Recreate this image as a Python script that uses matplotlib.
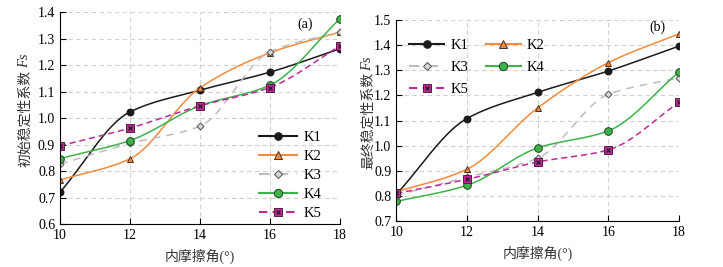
import matplotlib
matplotlib.use('Agg')
import matplotlib.pyplot as plt
import numpy as np

plt.rcParams['font.family'] = ['Liberation Serif', 'Noto Sans CJK SC']

# Data
angle = [10, 12, 14, 16, 18]

init_k1 = [0.720, 1.023, 1.105, 1.173, 1.261]
init_k2 = [0.766, 0.846, 1.114, 1.246, 1.324]
init_k3 = [0.826, 0.904, 0.969, 1.250, 1.325]
init_k4 = [0.847, 0.915, 1.046, 1.124, 1.374]
init_k5 = [0.895, 0.962, 1.046, 1.115, 1.272]

final_k1 = [0.806, 1.108, 1.212, 1.297, 1.396]
final_k2 = [0.816, 0.906, 1.150, 1.330, 1.445]
final_k3 = [0.802, 0.875, 0.950, 1.204, 1.270]
final_k4 = [0.778, 0.842, 0.991, 1.059, 1.293]
final_k5 = [0.810, 0.866, 0.935, 0.983, 1.172]

names = ['K1', 'K2', 'K3', 'K4', 'K5']


def pchip(x, y, xs):
    # monotone cubic (Fritsch-Carlson) for a smooth line through the points
    x = np.asarray(x, float)
    y = np.asarray(y, float)
    h = np.diff(x)
    d = np.diff(y) / h
    m = np.zeros_like(y)
    for i in range(1, len(y) - 1):
        if d[i - 1] * d[i] > 0:
            w1 = 2 * h[i] + h[i - 1]
            w2 = h[i] + 2 * h[i - 1]
            m[i] = (w1 + w2) / (w1 / d[i - 1] + w2 / d[i])
    m[0] = d[0]
    m[-1] = d[-1]
    out = np.empty_like(xs)
    for j, xv in enumerate(xs):
        i = min(np.searchsorted(x, xv, side='right') - 1, len(x) - 2)
        t = (xv - x[i]) / h[i]
        h00 = 2 * t**3 - 3 * t**2 + 1
        h10 = t**3 - 2 * t**2 + t
        h01 = -2 * t**3 + 3 * t**2
        h11 = t**3 - t**2
        out[j] = h00 * y[i] + h10 * h[i] * m[i] + h01 * y[i + 1] + h11 * h[i] * m[i + 1]
    return out


styles = {
    'K1': dict(color='#1a1a1a', ls='-', marker='o', mfc='#1a1a1a', mec='#1a1a1a', ms=5),
    'K2': dict(color='#f58a3a', ls='-', marker='^', mfc='#f58a3a', mec='#4a3020', ms=5),
    'K3': dict(color='#bdbdbd', ls=(0, (5, 4)), marker='D', mfc='#d8d8d8', mec='#505050', ms=3.5),
    'K4': dict(color='#3cb44a', ls='-', marker='o', mfc='#3cb44a', mec='#204020', ms=5.5),
    'K5': dict(color='#c0289a', ls=(0, (4, 2.5)), marker='s', mfc='#c0289a', mec='#502040', ms=5.5),
}


def draw(ax, series):
    xs = np.linspace(10, 18, 200)
    handles = {}
    for name, vals in zip(names, series):
        st = styles[name]
        ax.plot(xs, pchip(angle, vals, xs), color=st['color'], ls=st['ls'], lw=1.1)
        ax.plot(angle, vals, ls='none', marker=st['marker'], mfc=st['mfc'],
                mec=st['mec'], ms=st['ms'], mew=0.7)
        proxy = plt.Line2D([], [], color=st['color'], ls=st['ls'], lw=1.5,
                           marker=st['marker'], mfc=st['mfc'], mec=st['mec'],
                           ms=st['ms'] + 0.5, mew=0.7)
        if name == 'K5':
            ax.plot(angle, vals, ls='none', marker='x', color='#202020', ms=3.5, mew=0.9)
            handles[name] = (proxy, plt.Line2D([], [], ls='none', marker='x',
                                               color='#202020', ms=3.5, mew=0.9))
        else:
            handles[name] = proxy
    ax.set_xlim(10, 18)
    ax.set_xticks(angle)
    ax.grid(True, color='#d0d0d0', ls=(0, (4, 3)), lw=0.8)
    ax.set_axisbelow(True)
    for s in ['top', 'right']:
        ax.spines[s].set_visible(False)
    ax.tick_params(direction='in', labelsize=10, length=4)
    ax.set_xlabel('内摩擦角(°)', fontsize=10, color='#333333', labelpad=5)
    return handles


def ylabel(ax, cn, x):
    # Chinese part upright, "Fs" in italic just above it
    t = ax.text(x, 0.5, cn, rotation=90, transform=ax.transAxes, ha='center',
                va='center', fontsize=10, color='#333333',
                family=['Noto Sans CJK SC', 'Liberation Serif'])
    fig.canvas.draw()
    bb = t.get_window_extent()
    top = ax.transAxes.inverted().transform((bb.x0, bb.y1))[1]
    ax.text(x, top + 0.005, 'Fs', rotation=90, transform=ax.transAxes, ha='center',
            va='bottom', fontsize=10.5, style='italic', color='#333333',
            family='Liberation Serif')


fig = plt.figure(figsize=(7.23, 2.67), dpi=100)
ax1 = fig.add_axes([0.083, 0.161, 0.387, 0.794])
ax2 = fig.add_axes([0.548, 0.172, 0.391, 0.753])

h1 = draw(ax1, [init_k1, init_k2, init_k3, init_k4, init_k5])
ax1.set_ylim(0.6, 1.4)
ax1.set_yticks(np.arange(0.6, 1.41, 0.1))
ax1.set_yticklabels(['%.1f' % v for v in np.arange(0.6, 1.41, 0.1)])
ax1.text(17.0, 1.355, '(a)', fontsize=10, ha='center', va='center')
ax1.legend([h1[n] for n in names], names, loc='lower right', frameon=False,
           fontsize=10.5, handlelength=2.6, labelspacing=0.4, handletextpad=0.4,
           bbox_to_anchor=(0.98, -0.045))

h2 = draw(ax2, [final_k1, final_k2, final_k3, final_k4, final_k5])
ax2.set_ylim(0.7, 1.5)
ax2.set_yticks(np.arange(0.7, 1.51, 0.1))
ax2.set_yticklabels(['%.1f' % v for v in np.arange(0.7, 1.51, 0.1)])
ax2.text(17.4, 1.473, '(b)', fontsize=10, ha='center', va='center')
order = ['K1', 'K3', 'K5', 'K2', 'K4']
ax2.legend([h2[n] for n in order], order, loc='upper left', ncol=2, frameon=False,
           fontsize=10.5, handlelength=2.4, labelspacing=0.6, columnspacing=1.2,
           handletextpad=0.4, bbox_to_anchor=(0.0, 0.97))

ylabel(ax1, '初始稳定性系数', x=-0.125)
ylabel(ax2, '最终稳定性系数', x=-0.10)

fig.savefig('out.png', dpi=100)
